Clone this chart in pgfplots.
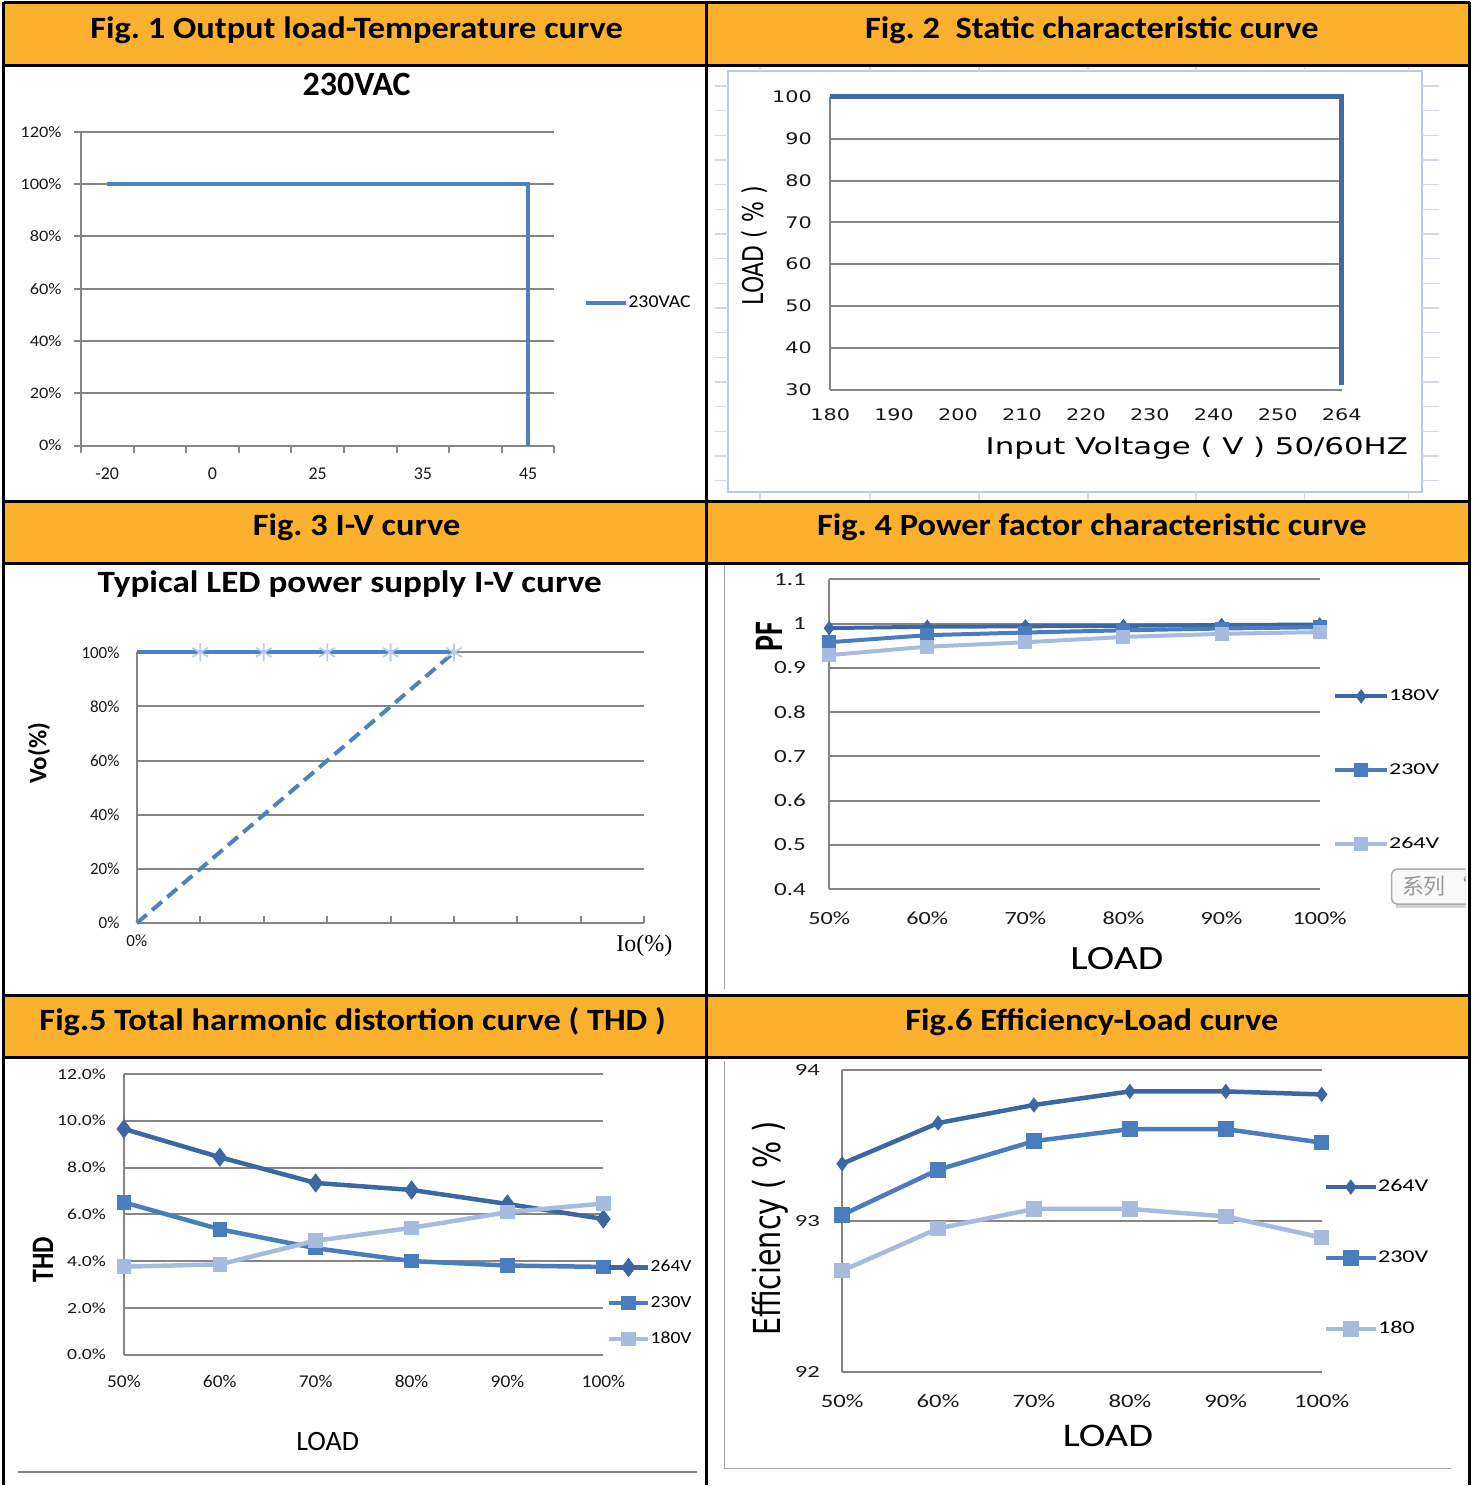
\documentclass[border=0pt]{standalone}
\usepackage{pgfplots}
\pgfplotsset{compat=1.18}
\usepackage{fontspec}
\usepackage{graphicx}
\setmainfont{Carlito}
\newfontfamily\dejavu{DejaVu Sans}
\newfontfamily\lserif{Liberation Serif}
\newfontfamily\cjk{Noto Sans CJK SC}
\newcommand{\hs}[2]{\scalebox{#1}[1]{#2}}
\newcommand{\vs}[2]{\scalebox{1}[#1]{#2}}
\newcommand{\fs}[1]{\fontsize{#1}{#1}\selectfont}

\definecolor{hdr}{RGB}{251,176,46}
\definecolor{gridc}{RGB}{134,134,134}
\definecolor{xblue}{RGB}{79,129,189}
\definecolor{dblue}{RGB}{60,103,162}
\definecolor{mblue}{RGB}{74,125,190}
\definecolor{lblue}{RGB}{166,187,222}
\definecolor{f2blue}{RGB}{63,106,166}
\definecolor{frameblue}{RGB}{184,202,232}
\definecolor{cellg}{RGB}{212,218,228}
\definecolor{astc}{RGB}{190,206,232}
\definecolor{frameg}{RGB}{160,160,160}

\pgfplotsset{
  panel/.style={scale only axis, anchor=south west, clip=false,
    axis x line*=bottom, axis y line*=left,
    axis line style={draw=gridc, line width=1pt, -},
    ymajorgrids, grid style={draw=gridc, line width=1pt},
    ticklabel style={inner sep=0pt, text=black!90},
    legend cell align=left,
  },
  leg/.style={draw=none, fill=none, inner sep=0pt, outer sep=0pt,
    nodes={inner sep=0pt}},
}

\begin{document}
\frenchspacing
\begin{tikzpicture}
\begin{scope}[x=0.5pt,y=-0.5pt]
\path (0,0) rectangle (1478,1486);
\fill[hdr] (4,3) rectangle (1471,66);
\fill[hdr] (4,502) rectangle (1471,564);
\fill[hdr] (4,996) rectangle (1471,1059);

% frame of fig 2 with the sheet cells round it
\draw[frameblue, line width=1pt] (729,71) rectangle (1423,492);
\foreach \y in {86,110.7,135.4,160.1,184.8,209.5,234.2,258.9,283.6,308.3,333,357.7,382.4,407.1,431.8,456.5,481.2} {
  \draw[cellg, line width=0.75pt] (716,\y) -- (729,\y);
  \draw[cellg, line width=0.75pt] (1423,\y) -- (1440,\y);
}
\foreach \x in {761,871,980,1089,1197,1306,1410} {
  \draw[cellg, line width=0.75pt] (\x,66) -- (\x,71);
  \draw[cellg, line width=0.75pt] (\x,492) -- (\x,500);
}
% frames of fig 4, 5, 6
\draw[frameg, line width=0.75pt] (725,566) -- (725,990);
\draw[gridc, line width=1pt] (18,1473) -- (698,1473);
\draw[frameg, line width=0.75pt] (725,1062) -- (725,1470) -- (1452,1470);
\end{scope}

% ---------- Fig 1 ----------
\begin{axis}[panel, at={(40.5pt,-223pt)}, width=237pt, height=157pt,
  xmin=0.5, xmax=9.5, ymin=0, ymax=120,
  ytick={0,20,...,120},
  yticklabels={\hs{1.15}{0\%},\hs{1.15}{20\%},\hs{1.15}{40\%},\hs{1.15}{60\%},\hs{1.15}{80\%},\hs{1.15}{100\%},\hs{1.15}{120\%}},
  yticklabel style={font=\fs{8}, anchor=east, xshift=-6pt},
  xtick={0.5,1.5,...,9.5}, xticklabels={},
  tick align=outside, major tick length=3.5pt,
  tick style={draw=gridc, line width=1pt},
  extra x ticks={1,3,5,7,9}, extra x tick labels={-20,0,25,35,45},
  extra x tick style={major tick length=0pt, grid=none,
    xticklabel style={font=\fs{9}, anchor=center, yshift=-14pt}},
  legend style={leg, at={(1.0635,0.4554)}, anchor=west, font=\fs{9}},
  legend image code/.code={\draw[#1] (0pt,0pt) -- (20pt,0pt);},
]
\addplot[xblue, line width=2pt, line join=miter] coordinates {(1,100) (9,100) (9,0)};
\addlegendentry{\hs{1.1}{230VAC}}
\end{axis}

% ---------- Fig 2 ----------
\begin{axis}[panel, at={(415.5pt,-195pt)}, width=256pt, height=146.5pt,
  xmin=0, xmax=8, ymin=30, ymax=100,
  ytick={30,40,...,100},
  yticklabels={\hs{1.3}{30},\hs{1.3}{40},\hs{1.3}{50},\hs{1.3}{60},\hs{1.3}{70},\hs{1.3}{80},\hs{1.3}{90},\hs{1.3}{100}},
  yticklabel style={font=\dejavu\fs{8}, anchor=east, xshift=-9pt},
  xtick={0,...,8},
  xticklabels={\hs{1.3}{180},\hs{1.3}{190},\hs{1.3}{200},\hs{1.3}{210},\hs{1.3}{220},\hs{1.3}{230},\hs{1.3}{240},\hs{1.3}{250},\hs{1.3}{264}},
  xticklabel style={font=\dejavu\fs{8}, anchor=center, yshift=-12.5pt},
  tick style={draw=none},
]
\addplot[f2blue, line width=2.5pt, line join=miter] coordinates {(0,100) (8,100) (8,31)};
\end{axis}

% ---------- Fig 3 ----------
\begin{axis}[panel, at={(68.5pt,-462pt)}, width=254pt, height=135.5pt,
  xmin=0, xmax=8, ymin=0, ymax=100,
  ytick={0,20,...,100},
  yticklabels={0\%,20\%,40\%,60\%,80\%,100\%},
  yticklabel style={font=\fs{8.5}, anchor=east, xshift=-8.5pt},
  ytick style={draw=none},
  xtick={0,...,8}, xticklabels={0\%,,,,,,,,},
  xticklabel style={font=\fs{8.5}, anchor=center, yshift=-9pt},
  xtick style={draw=gridc, line width=1pt},
  tick align=inside, major tick length=3.5pt,
]
\addplot[xblue, line width=2pt] coordinates {(0,100) (5,100)};
\addplot[only marks, mark=asterisk, mark size=4.5pt, mark options={astc, line width=0.9pt}]
  coordinates {(1,100) (2,100) (3,100) (4,100) (5,100)};
\addplot[xblue, line width=2pt, dash pattern=on 6.5pt off 3.5pt] coordinates {(0,0) (5,100)};
\end{axis}

% ---------- Fig 4 ----------
\begin{axis}[panel, at={(415pt,-445pt)}, width=245.5pt, height=155pt,
  xmin=0, xmax=5, ymin=0.4, ymax=1.1,
  ytick={0.4,0.5,0.6,0.7,0.8,0.9,1,1.1},
  yticklabels={\hs{1.35}{0.4},\hs{1.35}{0.5},\hs{1.35}{0.6},\hs{1.35}{0.7},\hs{1.35}{0.8},\hs{1.35}{0.9},\hs{1.35}{1},\hs{1.35}{1.1}},
  yticklabel style={font=\fs{9.3}, anchor=east, xshift=-11.5pt},
  xtick={0,...,5},
  xticklabels={\hs{1.3}{50\%},\hs{1.3}{60\%},\hs{1.3}{70\%},\hs{1.3}{80\%},\hs{1.3}{90\%},\hs{1.3}{100\%}},
  xticklabel style={font=\fs{9.3}, anchor=center, yshift=-14.5pt},
  tick style={draw=none},
  legend style={leg, at={(1.0275,0.3835)}, anchor=west, font=\fs{8.3}, row sep=30pt},
  legend image code/.code={\draw[mark repeat=2, mark phase=2, #1] plot coordinates {(0pt,0pt) (13pt,0pt) (26pt,0pt)};},
]
\addplot[dblue, line width=2pt, mark=diamond*, mark size=2pt] coordinates {(0,0.990) (1,0.993) (2,0.994) (3,0.995) (4,0.997) (5,0.998)};
\addlegendentry{\hs{1.45}{180V}}
\addplot[mblue, line width=2pt, mark=square*, mark size=2.5pt] coordinates {(0,0.958) (1,0.974) (2,0.980) (3,0.985) (4,0.989) (5,0.992)};
\addlegendentry{\hs{1.45}{230V}}
\addplot[lblue, line width=2pt, mark=square*, mark size=2.5pt] coordinates {(0,0.929) (1,0.948) (2,0.958) (3,0.970) (4,0.977) (5,0.981)};
\addlegendentry{\hs{1.45}{264V}}
\end{axis}

% ---------- Fig 5 ----------
\begin{axis}[panel, at={(62pt,-678pt)}, width=240pt, height=140.5pt,
  xmin=0, xmax=5, ymin=0, ymax=12,
  ytick={0,2,...,12},
  yticklabels={\hs{1.27}{0.0\%},\hs{1.27}{2.0\%},\hs{1.27}{4.0\%},\hs{1.27}{6.0\%},\hs{1.27}{8.0\%},\hs{1.27}{10.0\%},\hs{1.27}{12.0\%}},
  yticklabel style={font=\fs{7.75}, anchor=east, xshift=-8.75pt},
  xtick={0,...,5},
  xticklabels={\hs{1.08}{50\%},\hs{1.08}{60\%},\hs{1.08}{70\%},\hs{1.08}{80\%},\hs{1.08}{90\%},\hs{1.08}{100\%}},
  xticklabel style={font=\fs{9}, anchor=center, yshift=-13.5pt},
  tick style={draw=none},
  legend style={leg, at={(1.006,0.183)}, anchor=west, font=\fs{8.5}, row sep=10.75pt},
  legend image code/.code={\draw[mark repeat=2, mark phase=2, #1] plot coordinates {(0pt,0pt) (10pt,0pt) (20pt,0pt)};},
]
\addplot[dblue, line width=2.25pt, mark=diamond*, mark size=3pt] coordinates {(0,9.65) (1,8.44) (2,7.34) (3,7.04) (4,6.44) (5,5.80)};
\addlegendentry{\hs{1.15}{264V}}
\addplot[mblue, line width=2.25pt, mark=square*, mark size=2.5pt] coordinates {(0,6.51) (1,5.36) (2,4.55) (3,4.00) (4,3.81) (5,3.75)};
\addlegendentry{\hs{1.15}{230V}}
\addplot[lblue, line width=2.25pt, mark=square*, mark size=2.5pt] coordinates {(0,3.76) (1,3.86) (2,4.87) (3,5.42) (4,6.09) (5,6.46)};
\addlegendentry{\hs{1.15}{180V}}
\end{axis}

% ---------- Fig 6 ----------
\begin{axis}[panel, at={(421.5pt,-686.5pt)}, width=240pt, height=150.8pt,
  xmin=0, xmax=5, ymin=92, ymax=94,
  ytick={92,93,94},
  yticklabels={\hs{1.45}{92},\hs{1.45}{93},\hs{1.45}{94}},
  yticklabel style={font=\fs{8.5}, anchor=east, xshift=-11pt},
  xtick={0,...,5},
  xticklabels={\hs{1.3}{50\%},\hs{1.3}{60\%},\hs{1.3}{70\%},\hs{1.3}{80\%},\hs{1.3}{90\%},\hs{1.3}{100\%}},
  xticklabel style={font=\fs{9.5}, anchor=center, yshift=-14.5pt},
  tick style={draw=none},
  legend style={leg, at={(1.004,0.3773)}, anchor=west, font=\fs{9}, row sep=28pt},
  legend image code/.code={\draw[mark repeat=2, mark phase=2, #1] plot coordinates {(0pt,0pt) (12.5pt,0pt) (25pt,0pt)};},
]
\addplot[dblue, line width=2.25pt, mark=diamond*, mark size=2pt] coordinates {(0,93.38) (1,93.65) (2,93.77) (3,93.86) (4,93.86) (5,93.84)};
\addlegendentry{\hs{1.34}{264V}}
\addplot[mblue, line width=2.25pt, mark=square*, mark size=2.75pt] coordinates {(0,93.04) (1,93.34) (2,93.53) (3,93.61) (4,93.61) (5,93.52)};
\addlegendentry{\hs{1.34}{230V}}
\addplot[lblue, line width=2.25pt, mark=square*, mark size=2.75pt] coordinates {(0,92.67) (1,92.95) (2,93.08) (3,93.08) (4,93.03) (5,92.89)};
\addlegendentry{\hs{1.34}{180}}
\end{axis}

\begin{scope}[x=0.5pt,y=-0.5pt]
% headers
\begin{scope}[every node/.style={anchor=base, inner sep=0pt, font=\fs{15.5}\bfseries}]
\node at (357,39) {\hs{1.11}{Fig. 1 Output load-Temperature curve}};
\node at (1093,39) {\hs{1.11}{Fig. 2~~Static characteristic curve}};
\node at (357,536) {\hs{1.11}{Fig. 3 I-V curve}};
\node at (1093,536.5) {\hs{1.11}{Fig. 4 Power factor characteristic curve}};
\node at (353,1032) {\hs{1.11}{Fig.5 Total harmonic distortion curve ( THD )}};
\node at (1093,1032) {\hs{1.11}{Fig.6 Efficiency-Load curve}};
\end{scope}
% titles and axis titles
\node[inner sep=0pt, font=\fs{17}\bfseries] at (357,84.5) {230VAC};
\node[inner sep=0pt, rotate=90, font=\dejavu\fs{11}] at (755,246) {\vs{1.3}{LOAD ( \% )}};
\node[inner sep=0pt, anchor=base, font=\dejavu\fs{11.5}] at (1198,455) {\hs{1.34}{Input Voltage ( V ) 50/60HZ}};
\node[inner sep=0pt, anchor=base, font=\fs{15.5}\bfseries] at (350,593) {\hs{1.135}{Typical LED power supply I-V curve}};
\node[inner sep=0pt, rotate=90, font=\fs{12.5}\bfseries] at (39,754) {Vo(\%)};
\node[inner sep=0pt, font=\lserif\fs{12}] at (645,947) {Io(\%)};
\node[inner sep=0pt, rotate=90, font=\fs{15}\bfseries] at (770,637) {\vs{1.35}{PF}};
\node[inner sep=0pt, anchor=base, font=\fs{17}] at (1118,970) {\hs{1.22}{LOAD}};
\node[inner sep=0pt, rotate=90, font=\fs{13}\bfseries] at (43,1261) {\vs{1.2}{THD}};
\node[inner sep=0pt, anchor=base, font=\fs{14}] at (328,1452) {LOAD};
\node[inner sep=0pt, rotate=90, font=\dejavu\fs{14.3}] at (771,1230) {\vs{1.3}{Efficiency ( \% )}};
\node[inner sep=0pt, anchor=base, font=\fs{16.5}] at (1109,1448) {\hs{1.22}{LOAD}};
% tooltip in fig 4
\begin{scope}
\clip (1380,860) rectangle (1467,915);
\fill[gray!35] (1397,874) rectangle (1470,909);
\draw[gray!65, fill=gray!5, rounded corners=3pt, line width=0.75pt] (1393,870) rectangle (1480,905);
\node[anchor=west, inner sep=0pt, text=gray!80, font=\cjk\fs{11}] at (1403,887) {系列 “};
\end{scope}
% table rules
\begin{scope}[line width=1.5pt, black]
\draw (4,3) -- (1471,3);
\draw (4,66) -- (1471,66);
\draw (4,502) -- (1471,502);
\draw (4,564) -- (1471,564);
\draw (4,996) -- (1471,996);
\draw (4,1059) -- (1471,1059);
\draw (4,2.25) -- (4,1486);
\draw (707,3) -- (707,1486);
\draw (1471,2.25) -- (1471,1486);
\end{scope}
\end{scope}
\end{tikzpicture}
\end{document}
